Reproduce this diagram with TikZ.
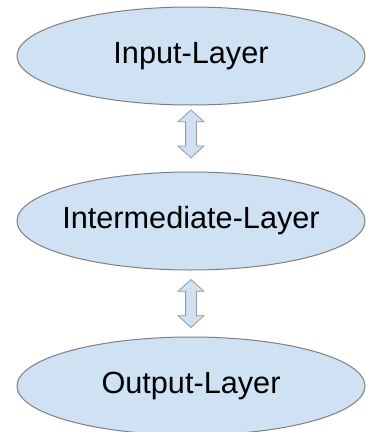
\documentclass[tikz,border=0pt]{standalone}
\usepackage{fontspec}
\setmainfont{Liberation Sans}
\usetikzlibrary{shapes.geometric,shapes.arrows,positioning,calc}
\definecolor{layerblue}{HTML}{CFE2F3}
\definecolor{layergray}{HTML}{7F7F7F}

\begin{document}
\begin{tikzpicture}[node distance=123.75pt,on grid,
    layer/.style={ellipse,draw=layergray,fill=layerblue,line width=0.75pt,
        minimum width=261pt,minimum height=73.5pt,inner sep=0pt,
        font=\fontsize{23}{27}\selectfont},
    updown/.style={double arrow,draw=layergray!80,fill=layerblue,line width=0.6pt,
        rotate=90,minimum height=36pt,minimum width=18.75pt,inner sep=3.75pt,
        double arrow head extend=5.6pt,double arrow tip angle=95}]
    \useasboundingbox (0,0) rectangle (274.5pt,-324pt);
    \node[layer] (input) at (143.25pt,-42pt) {\makebox[0pt]{Input-Layer}};
    \node[layer] (inter) [below=of input] {\makebox[0pt]{Intermediate-Layer}};
    \node[layer] (output) [below=of inter] {\makebox[0pt]{Output-Layer}};
    \node[updown] (io) at ($(input.south)!0.43!(inter.north)$) {};
    \node[updown] (oi) at ($(inter.south)!0.5!(output.north)$) {};
\end{tikzpicture}
\end{document}
